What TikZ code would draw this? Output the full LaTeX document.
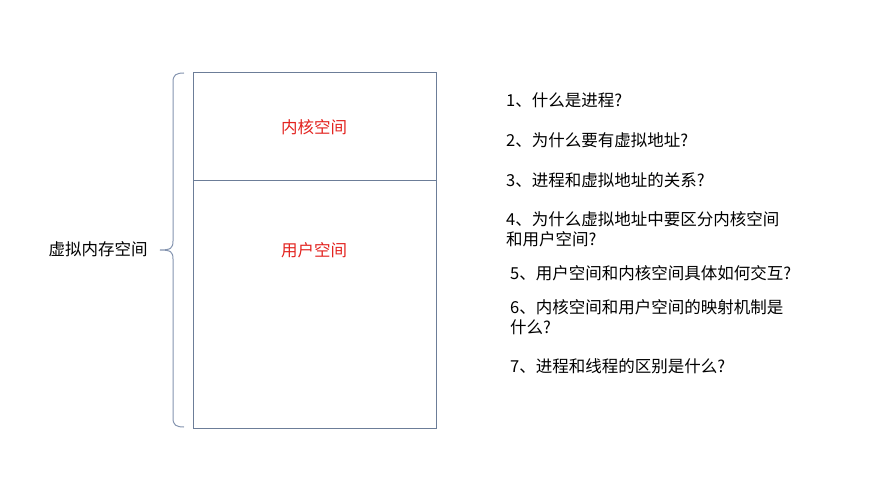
\documentclass[tikz,border=0pt]{standalone}
\usepackage{fontspec}
\setmainfont{Noto Sans CJK SC}
\usepackage{tikz}
\definecolor{boxline}{HTML}{6C7D98}
\definecolor{braceline}{HTML}{8595B0}
\definecolor{spacered}{HTML}{E3231F}

\begin{document}
\begin{tikzpicture}[x=1pt,y=-1pt,font=\fontsize{16.5}{20}\selectfont,
  q/.style={anchor=west,align=left,inner sep=0pt},
  part/.style={draw=boxline,line width=1.3pt,minimum width=243pt,anchor=north west,inner sep=0pt}]
\fill[white] (0,0) rectangle (889,500);
\useasboundingbox (0,0) rectangle (889,500);
\node[part,minimum height=108pt] (kernel) at (193,72) {};
\node[part,minimum height=248pt] (user) at (193,180) {};
\node[text=spacered] (kernellabel) at (314,127) {内核空间};
\node[text=spacered] (userlabel) at (314,250) {用户空间};
\node (vmem) at (98,249) {虚拟内存空间};
\coordinate (tip) at (160,250);
\draw[braceline,line width=1pt] (184,73) .. controls (176,73) and (173,75) .. (173,82)
  -- (173,241) .. controls (173,248) and (171,250) .. (tip)
  (tip) .. controls (171,250) and (173,252) .. (173,259)
  -- (173,418) .. controls (173,425) and (176,427) .. (184,427);
\node[q] (q1) at (506,100) {1、什么是进程?};
\node[q] (q2) at (506,140) {2、为什么要有虚拟地址?};
\node[q] (q3) at (506,180) {3、进程和虚拟地址的关系?};
\node[q] (q4) at (506,229) {4、为什么虚拟地址中要区分内核空间\\和用户空间?};
\node[q] (q5) at (510,273) {5、用户空间和内核空间具体如何交互?};
\node[q] (q6) at (510,317) {6、内核空间和用户空间的映射机制是\\什么?};
\node[q] (q7) at (510,366) {7、进程和线程的区别是什么?};
\end{tikzpicture}
\end{document}
